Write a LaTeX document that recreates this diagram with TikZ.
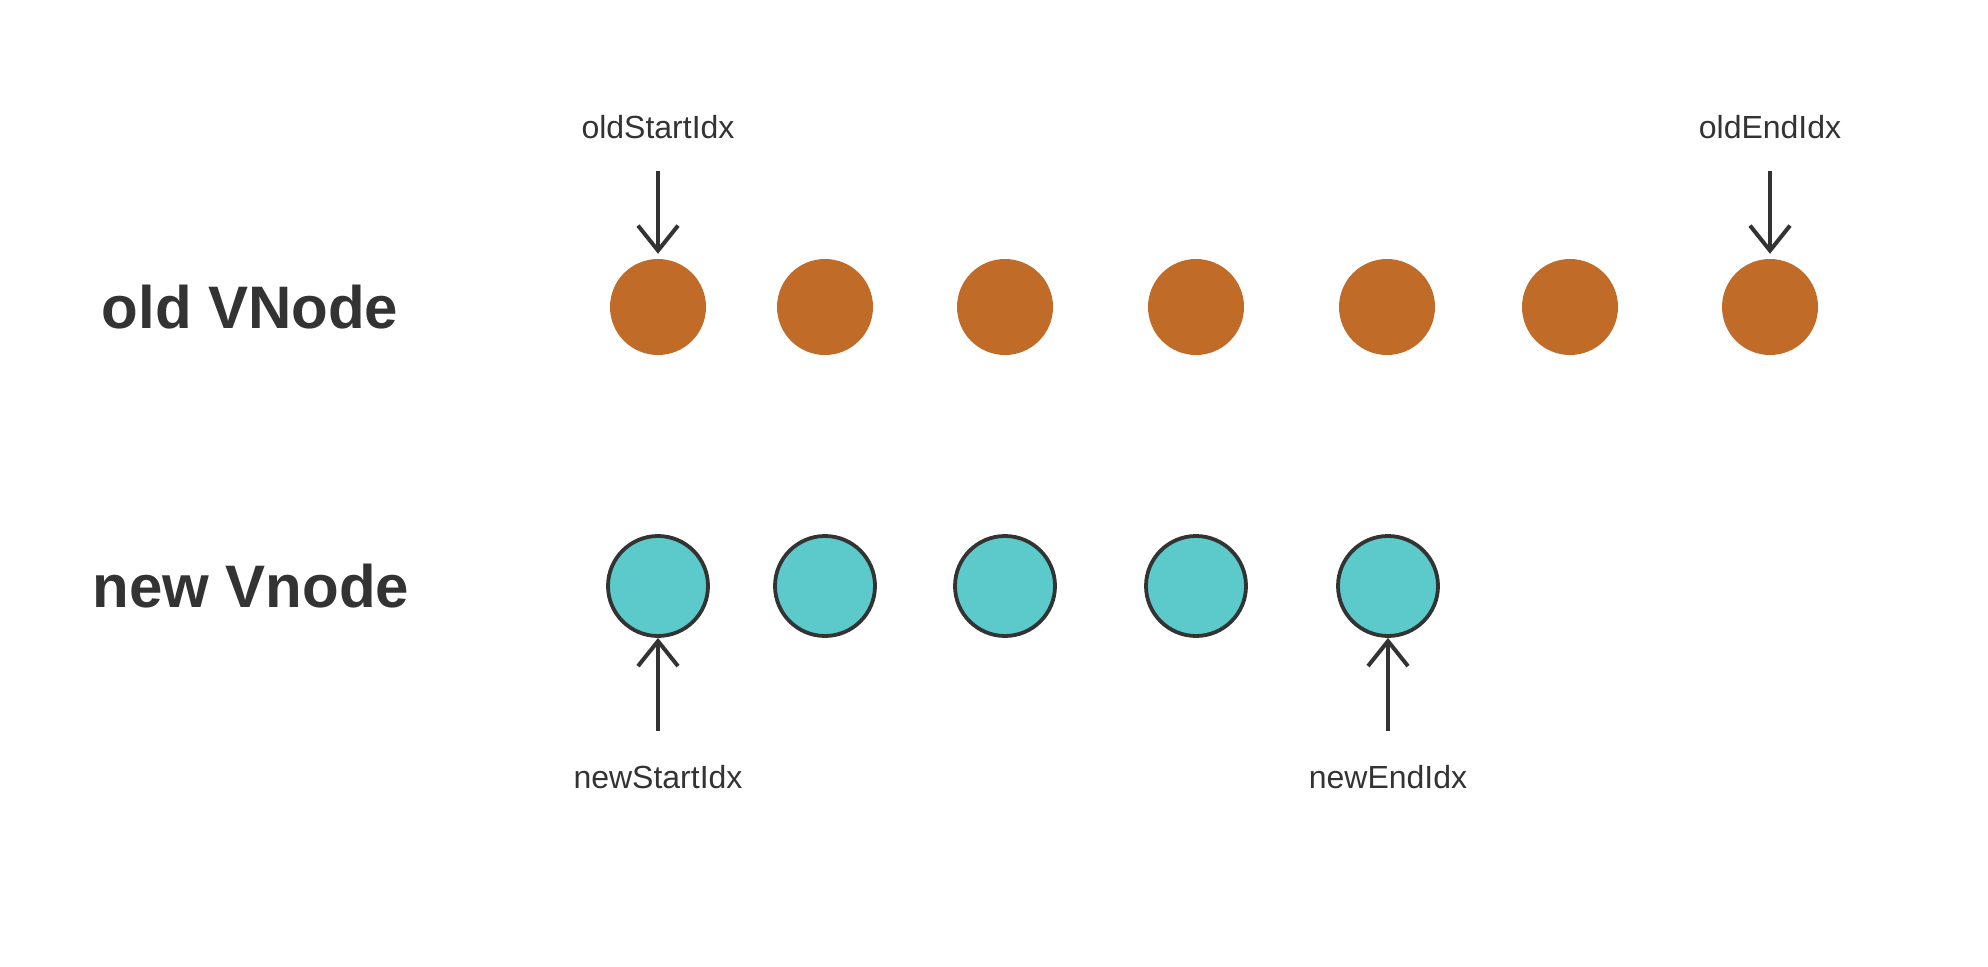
\documentclass[tikz,border=0pt]{standalone}
\usepackage{fontspec}
\setmainfont{Liberation Sans}
\usetikzlibrary{arrows.meta}
\definecolor{ink}{HTML}{333333}
\definecolor{oldfill}{HTML}{C06B28}
\definecolor{newfill}{HTML}{5CCACA}
\tikzset{
  oldnode/.style={circle, fill=oldfill, draw=none, minimum size=96pt, inner sep=0pt},
  newnode/.style={circle, fill=newfill, draw=ink, line width=3.8pt, minimum size=100pt, inner sep=0pt},
  rowlabel/.style={font=\fontsize{60}{60}\selectfont\bfseries, text=ink, inner sep=0pt},
  idxlabel/.style={font=\fontsize{32}{32}\selectfont, text=ink, inner sep=0pt, anchor=base},
  pointer/.style={draw=ink, line width=4pt, -{Straight Barb[length=25pt, width=40pt]}}
}
\begin{document}
\begin{tikzpicture}[x=1pt, y=-1pt]
\useasboundingbox (0,0) rectangle (1988,966);
% row labels
\node[rowlabel] (oldlbl) at (250,307) {old VNode};
\node[rowlabel] (newlbl) at (251,586) {new Vnode};
% old nodes
\node[oldnode] (o1) at (658,307) {};
\node[oldnode] (o2) at (825,307) {};
\node[oldnode] (o3) at (1005,307) {};
\node[oldnode] (o4) at (1196,307) {};
\node[oldnode] (o5) at (1387,307) {};
\node[oldnode] (o6) at (1570,307) {};
\node[oldnode] (o7) at (1770,307) {};
% new nodes
\node[newnode] (n1) at (658,586) {};
\node[newnode] (n2) at (825,586) {};
\node[newnode] (n3) at (1005,586) {};
\node[newnode] (n4) at (1196,586) {};
\node[newnode] (n5) at (1388,586) {};
% index labels
\node[idxlabel] (os) at (658,138) {oldStartIdx};
\node[idxlabel] (oe) at (1770,138) {oldEndIdx};
\node[idxlabel] (ns) at (658,788) {newStartIdx};
\node[idxlabel] (ne) at (1388,788) {newEndIdx};
% pointers
\draw[pointer, shorten <=32pt, shorten >=5pt] (os.south) -- (o1.north);
\draw[pointer, shorten <=32pt, shorten >=5pt] (oe.south) -- (o7.north);
\draw[pointer, shorten <=34pt, shorten >=0pt] (ns.north) -- (n1.south);
\draw[pointer, shorten <=34pt, shorten >=0pt] (ne.north) -- (n5.south);
\end{tikzpicture}
\end{document}
